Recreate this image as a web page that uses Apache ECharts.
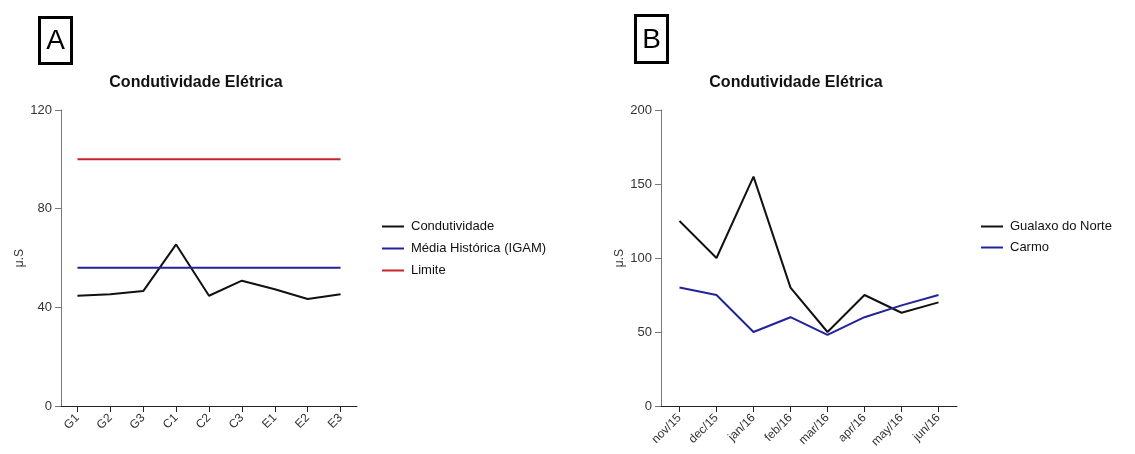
<!DOCTYPE html>
<html>
<head>
<meta charset="utf-8">
<script src="https://cdn.jsdelivr.net/npm/echarts@6/dist/echarts.min.js"></script>
<style>
  html, body { margin: 0; padding: 0; background: #fff; }
  #chart { width: 1135px; height: 454px; }
</style>
</head>
<body>
<div id="chart"></div>
<script>
// Panel A: conductivity by sampling point
const pontos = ['G1', 'G2', 'G3', 'C1', 'C2', 'C3', 'E1', 'E2', 'E3'];
const condutividade = [44.7, 45.3, 46.6, 65.5, 44.7, 50.8, 47.3, 43.4, 45.3];
const mediaHistorica = [56, 56, 56, 56, 56, 56, 56, 56, 56];
const limite = [100, 100, 100, 100, 100, 100, 100, 100, 100];
const ticksA = { min: 0, max: 120, interval: 40 };

// Panel B: conductivity by month
const meses = ['nov/15', 'dec/15', 'jan/16', 'feb/16', 'mar/16', 'apr/16', 'may/16', 'jun/16'];
const gualaxo = [125, 100, 155, 80, 50, 75, 63, 70];
const carmo = [80, 75, 50, 60, 48, 60, 68, 75];
const ticksB = { min: 0, max: 200, interval: 50 };

const FONT = 'Liberation Sans, Arial, sans-serif';
const BLACK = '#111111';
const BLUE = '#22229a';
const RED = '#c8252b';

function yAxisFor(idx, t) {
  return {
    gridIndex: idx, type: 'value', min: t.min, max: t.max, interval: t.interval,
    name: 'μ.S', nameLocation: 'middle', nameRotate: 90, nameGap: 35,
    nameTextStyle: { fontFamily: FONT, fontSize: 12, color: '#333' },
    axisLine: { show: true, lineStyle: { color: '#777', width: 1 } },
    axisTick: { show: true, length: 6, lineStyle: { color: '#777' } },
    axisLabel: { fontFamily: FONT, fontSize: 13, color: '#333', margin: 9 },
    splitLine: { show: false }
  };
}
function xAxisFor(idx, cats) {
  return {
    gridIndex: idx, type: 'category', data: cats, boundaryGap: true,
    axisLine: { show: true, lineStyle: { color: '#222', width: 1 } },
    axisTick: { show: true, alignWithLabel: true, length: 6, lineStyle: { color: '#222' } },
    axisLabel: { fontFamily: FONT, fontSize: 12, color: '#333', rotate: 45, margin: 10, interval: 0 }
  };
}
function lineSeries(name, data, color, idx) {
  return {
    name, type: 'line', data, xAxisIndex: idx, yAxisIndex: idx,
    symbol: 'none', lineStyle: { color, width: 2 }, itemStyle: { color },
    animation: false
  };
}
function panelBox(x, y, w, h, letter) {
  return {
    type: 'group', left: x, top: y,
    children: [
      { type: 'rect', shape: { x: 0, y: 0, width: w, height: h },
        style: { fill: '#fff', stroke: '#000', lineWidth: 3 } },
      { type: 'text', x: w / 2, y: h / 2 + 1,
        style: { text: letter, fontFamily: FONT, fontSize: 28, fill: '#000',
                 align: 'center', verticalAlign: 'middle' } }
    ]
  };
}

const chart = echarts.init(document.getElementById('chart'), null, { renderer: 'canvas' });
chart.setOption({
  backgroundColor: '#fff',
  animation: false,
  title: [
    { text: 'Condutividade Elétrica', left: 191, top: 70, textAlign: 'center',
      textStyle: { fontFamily: FONT, fontSize: 16, fontWeight: 'bold', color: '#111' } },
    { text: 'Condutividade Elétrica', left: 791, top: 70, textAlign: 'center',
      textStyle: { fontFamily: FONT, fontSize: 16, fontWeight: 'bold', color: '#111' } }
  ],
  grid: [
    { left: 61, top: 110, width: 296, height: 296 },
    { left: 661, top: 110, width: 296, height: 296 }
  ],
  xAxis: [xAxisFor(0, pontos), xAxisFor(1, meses)],
  yAxis: [yAxisFor(0, ticksA), yAxisFor(1, ticksB)],
  legend: [
    { data: ['Condutividade', 'Média Histórica (IGAM)', 'Limite'], orient: 'vertical',
      left: 377, top: 215, itemWidth: 22, itemHeight: 2, itemGap: 9, icon: 'rect',
      textStyle: { fontFamily: FONT, fontSize: 13, color: '#111', padding: [0, 0, 0, 2] } },
    { data: ['Gualaxo do Norte', 'Carmo'], orient: 'vertical',
      left: 976, top: 215, itemWidth: 22, itemHeight: 2, itemGap: 8, icon: 'rect',
      textStyle: { fontFamily: FONT, fontSize: 13, color: '#111', padding: [0, 0, 0, 2] } }
  ],
  series: [
    lineSeries('Condutividade', condutividade, BLACK, 0),
    lineSeries('Média Histórica (IGAM)', mediaHistorica, BLUE, 0),
    lineSeries('Limite', limite, RED, 0),
    lineSeries('Gualaxo do Norte', gualaxo, BLACK, 1),
    lineSeries('Carmo', carmo, BLUE, 1)
  ],
  graphic: [
    panelBox(38, 16, 32, 46, 'A'),
    panelBox(634, 14, 32, 47, 'B')
  ]
});
</script>
</body>
</html>
